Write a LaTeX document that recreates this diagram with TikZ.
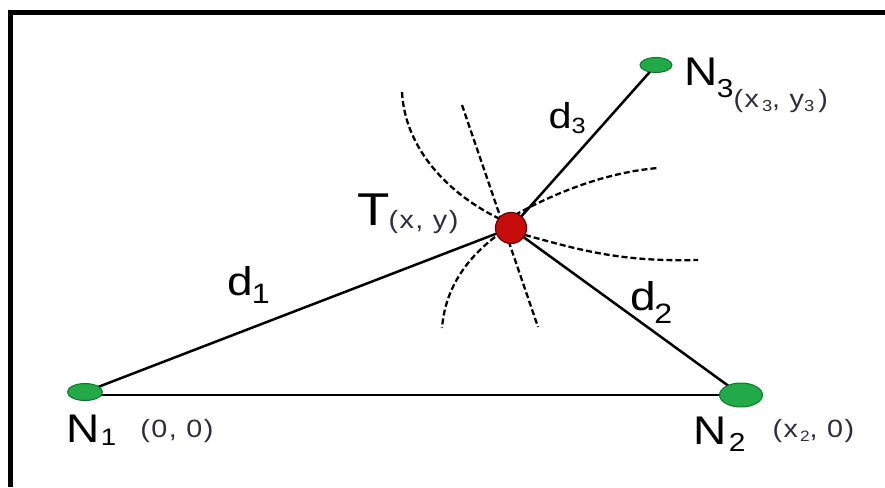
\documentclass[tikz,border=0pt]{standalone}
\usepackage{fontspec}
\setmainfont[FakeStretch=1.15]{Liberation Sans}
\usetikzlibrary{shapes.geometric,backgrounds}
\newcommand\crdfont{\fontsize{25}{25}\selectfont\addfontfeature{LetterSpace=6}\color{crdgray}}
\newcommand\fs[1]{\fontsize{#1}{#1}\selectfont}
\definecolor{nodegreen}{RGB}{34,170,72}
\definecolor{nodegreendk}{RGB}{10,120,40}
\definecolor{tred}{RGB}{200,12,12}
\definecolor{treddk}{RGB}{110,0,0}
\definecolor{crdgray}{RGB}{45,45,60}
\begin{document}
\begin{tikzpicture}[x=1pt,y=-1pt,
  sensor/.style={ellipse, fill=nodegreen, draw=nodegreendk, line width=1pt, inner sep=0pt},
  target/.style={circle, fill=tred, draw=treddk, line width=1.2pt, inner sep=0pt, minimum size=31pt},
  link/.style={line width=2.5pt, draw=black},
  wave/.style={line width=2.3pt, dash pattern=on 6pt off 3pt, draw=black},
  lbl/.style={inner sep=0pt, anchor=base west, text=black}]
\useasboundingbox (0,0) rectangle (885,487);
\draw[line width=5pt] (10,487) -- (10,12.5) -- (885,12.5);

\node[sensor, minimum width=35pt, minimum height=17pt] (N1) at (85,392) {};
\node[sensor, minimum width=43pt, minimum height=24pt] (N2) at (741,395) {};
\node[sensor, minimum width=32pt, minimum height=15pt] (N3) at (656,65) {};
\node[target] (T) at (511,228) {};

\begin{scope}[on background layer]
\draw[link] (N1.center |- N2.center) -- (N2.center);
\draw[link] (N1.center) -- (T.center);
\draw[link] (T.center) -- (N2.center);
\draw[link] (T.center) -- (N3.center);
\draw[wave] (402,92) .. controls (405,150) and (450,195) .. (500,219);
\draw[wave] (462,105) -- (538,327);
\draw[wave] (515,215) .. controls (560,190) and (610,172) .. (658,168);
\draw[wave] (525,235) .. controls (580,250) and (620,262) .. (698,260);
\draw[wave] (495,237) .. controls (465,260) and (445,290) .. (442,328);
\end{scope}

\node[lbl] (L1) at (66.5,442) {\fs{40}N\kern1pt\raisebox{-3pt}{\fs{24}1}\kern24pt\raisebox{5pt}{\crdfont (0, 0)}};
\node[lbl] (L2) at (693.5,444) {\fs{40}N\kern2pt\raisebox{-7pt}{\fs{26}2}\kern27pt\raisebox{7pt}{\crdfont (x\kern2pt\raisebox{-4pt}{\fs{15}2}, 0)}};
\node[lbl] (L3) at (684.5,85) {\fs{40}N\kern-1pt\raisebox{-12pt}{\fs{26}3}\raisebox{-22pt}{\crdfont (x\kern3pt\raisebox{-4pt}{\fs{16}3}, y\raisebox{-4pt}{\fs{16}3}\kern4pt)}};
\node[lbl] (LT) at (357,225) {\fs{46}T\kern-1pt\raisebox{-3pt}{\crdfont (x, y)}};
\node[lbl] (D1) at (227.5,295) {\fs{40}d\kern-1.5pt\raisebox{-8pt}{\fs{28}1}};
\node[lbl] (D2) at (630.5,310) {\fs{40}d\kern-2pt\raisebox{-13pt}{\fs{28}2}};
\node[lbl] (D3) at (548.5,128) {\fs{36}d\raisebox{-5pt}{\fs{22}3}};
\end{tikzpicture}
\end{document}
